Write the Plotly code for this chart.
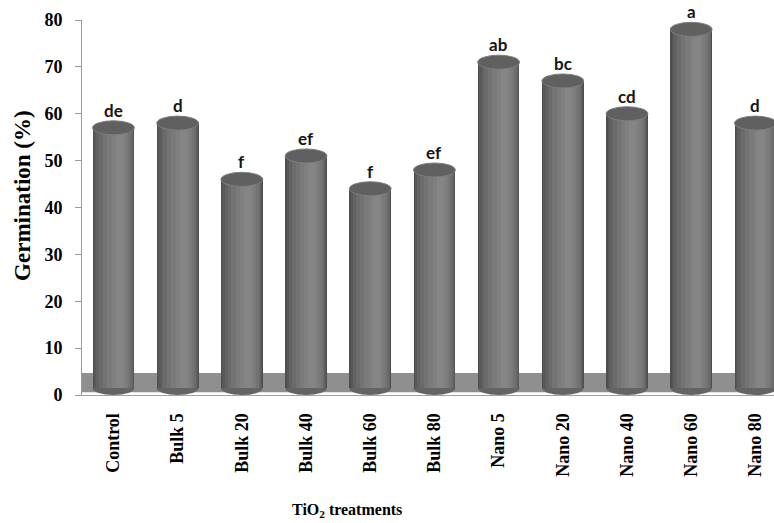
import plotly.graph_objects as go

categories = ["Control", "Bulk 5", "Bulk 20", "Bulk 40", "Bulk 60", "Bulk 80",
              "Nano 5", "Nano 20", "Nano 40", "Nano 60", "Nano 80"]
germination = [57, 58, 46, 51, 44, 48, 71, 67, 60, 78, 58]
letters = ["de", "d", "f", "ef", "f", "ef", "ab", "bc", "cd", "a", "d"]
y_ticks = [0, 10, 20, 30, 40, 50, 60, 70, 80]

xpos = list(range(len(categories)))
HW = 0.325       # half bar width in category units
BASE = 1.5       # bar base (floor level)
CAP = 1.5        # half height of top ellipse in data units

# cylinder shading layers: (left, right, color) as fraction of half-width
layers = [
    (-1.00, 1.00, "#4e4e4e"),
    (-0.93, 0.97, "#585858"),
    (-0.82, 0.93, "#626262"),
    (-0.68, 0.88, "#6b6b6b"),
    (-0.50, 0.80, "#737373"),
    (-0.30, 0.70, "#7a7a7a"),
    (-0.08, 0.58, "#808080"),
    (0.10, 0.45, "#858585"),
]

fig = go.Figure()
for lo, hi, col in layers:
    fig.add_trace(go.Bar(
        x=xpos, y=[v - BASE for v in germination], base=BASE,
        offset=lo * HW, width=(hi - lo) * HW,
        marker=dict(color=col, line=dict(width=0)),
        hoverinfo="skip", showlegend=False,
    ))

shapes = []
# floor band
shapes.append(dict(type="rect", xref="paper", yref="y", x0=0, x1=1, y0=0.6, y1=4.7,
                   fillcolor="#8f8f8f", line=dict(width=0), layer="below"))
# bottom ellipses
for i in xpos:
    shapes.append(dict(type="circle", xref="x", yref="y",
                       x0=i - HW, x1=i + HW, y0=BASE - CAP, y1=BASE + CAP,
                       fillcolor="#646464", line=dict(width=0), layer="below"))
# top ellipses
for i, v in zip(xpos, germination):
    shapes.append(dict(type="circle", xref="x", yref="y",
                       x0=i - HW, x1=i + HW, y0=v - CAP, y1=v + CAP,
                       fillcolor="#606060", line=dict(color="#7d7d7d", width=1),
                       layer="above"))

annotations = []
for i, v, t in zip(xpos, germination, letters):
    annotations.append(dict(x=i, y=v, xref="x", yref="y", text=t, showarrow=False,
                            yanchor="bottom", xanchor="center", yshift=6, borderpad=0,
                            font=dict(family="Lato", size=17, color="#151515", weight="bold")))
annotations.append(dict(xref="paper", yref="paper", x=0, y=0.531, xshift=-59,
                        text="Germination (%)", textangle=-90, showarrow=False,
                        xanchor="center", yanchor="middle",
                        font=dict(family="Liberation Serif", size=23, color="black", weight="bold")))
annotations.append(dict(xref="paper", yref="paper", x=0.383, y=-0.307,
                        text="TiO<sub>2</sub> treatments", showarrow=False,
                        xanchor="center", yanchor="middle",
                        font=dict(family="Liberation Serif", size=16, color="black", weight="bold")))

fig.update_layout(
    width=774, height=523,
    margin=dict(l=82, r=0, t=20, b=128),
    plot_bgcolor="white", paper_bgcolor="white",
    barmode="overlay", bargap=0,
    shapes=shapes, annotations=annotations,
    xaxis=dict(range=[-0.49, 10.29], tickvals=xpos, ticktext=categories,
               tickangle=-90, ticks="outside", ticklen=10, tickcolor="rgba(0,0,0,0)",
               showline=True, linecolor="#a0a0a0", linewidth=1,
               showgrid=False, zeroline=False,
               tickfont=dict(family="Liberation Serif", size=18, color="black", weight="bold")),
    yaxis=dict(range=[0, 80], tickvals=y_ticks, ticks="outside", ticklen=6,
               ticklabelstandoff=9,
               tickcolor="#9a9a9a", showline=True, linecolor="#9a9a9a", linewidth=1,
               showgrid=False, zeroline=False,
               tickfont=dict(family="Liberation Serif", size=18, color="black", weight="bold")),
)

fig.write_html("out.html", config={"displayModeBar": False},
               post_script="document.body.style.margin='0';")
